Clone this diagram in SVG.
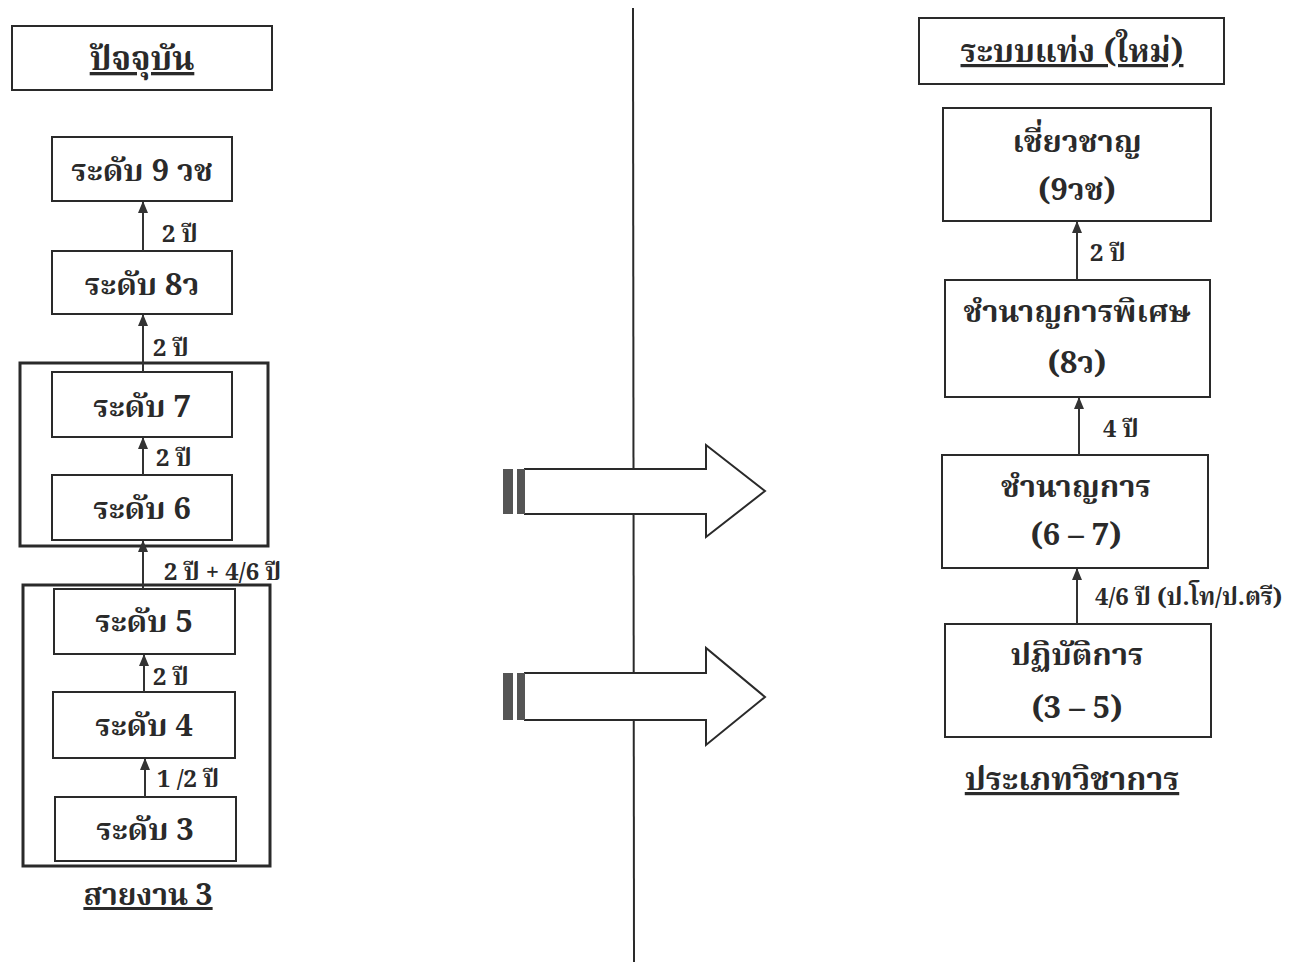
<svg xmlns="http://www.w3.org/2000/svg" width="1315" height="962" viewBox="0 0 1315 962">
<defs>
<marker id="ah" viewBox="0 0 12 10" refX="11" refY="5" markerWidth="12" markerHeight="10" markerUnits="userSpaceOnUse" orient="auto">
<path d="M0,0 L12,5 L0,10 Z" fill="#333"/>
</marker>
<style>
text{font-family:"Noto Serif Thai","Noto Sans Thai","Garuda","Loma","Noto Sans","DejaVu Sans",sans-serif;font-weight:bold;fill:#2a2a2a;text-anchor:middle}
.box{fill:#fff;stroke:#2a2a2a;stroke-width:2}
.outer{fill:none;stroke:#2a2a2a;stroke-width:3}
.lbl{font-size:31px}
.sm{font-size:24px;text-anchor:start}
.conn{stroke:#333;stroke-width:2;fill:none}
.u{text-decoration:underline}
</style>
</defs>
<rect width="1315" height="962" fill="#fff"/>

<!-- divider -->
<line x1="633" y1="8" x2="634" y2="962" stroke="#2a2a2a" stroke-width="2"/>

<!-- left title -->
<g id="title-left">
<rect class="box" x="12" y="26" width="260" height="64"/>
<text class="lbl u" x="142" y="70" style="font-size:33px">ปัจจุบัน</text>
</g>

<!-- outer groups -->
<g id="group-6-7"><rect class="outer" x="20" y="363" width="248" height="183"/></g>
<g id="group-3-5"><rect class="outer" x="23" y="585" width="247" height="281"/></g>

<g id="lv9"><rect class="box" x="52" y="137" width="180" height="64"/><text class="lbl" x="142" y="181">ระดับ 9 วช</text></g>
<g id="lv8"><rect class="box" x="52" y="251" width="180" height="63"/><text class="lbl" x="142" y="295">ระดับ 8ว</text></g>
<g id="lv7"><rect class="box" x="52" y="372" width="180" height="65"/><text class="lbl" x="142" y="417">ระดับ 7</text></g>
<g id="lv6"><rect class="box" x="52" y="475" width="180" height="65"/><text class="lbl" x="142" y="519">ระดับ 6</text></g>
<g id="lv5"><rect class="box" x="54" y="589" width="181" height="65"/><text class="lbl" x="144" y="632">ระดับ 5</text></g>
<g id="lv4"><rect class="box" x="53" y="692" width="182" height="66"/><text class="lbl" x="144" y="736">ระดับ 4</text></g>
<g id="lv3"><rect class="box" x="55" y="797" width="181" height="64"/><text class="lbl" x="145" y="840">ระดับ 3</text></g>
<g id="caption-left"><text class="lbl u" x="148" y="905" style="font-size:30px">สายงาน 3</text></g>

<!-- right -->
<g id="title-right">
<rect class="box" x="919" y="18" width="305" height="66"/>
<text class="lbl u" x="1072" y="62" style="font-size:32px">ระบบแท่ง (ใหม่)</text>
</g>
<g id="expert"><rect class="box" x="943" y="108" width="268" height="113"/><text class="lbl" x="1077" y="152">เชี่ยวชาญ</text><text class="lbl" x="1077" y="200">(9วช)</text></g>
<g id="senior"><rect class="box" x="945" y="280" width="265" height="117"/><text class="lbl" x="1077" y="322">ชำนาญการพิเศษ</text><text class="lbl" x="1077" y="373">(8ว)</text></g>
<g id="professional"><rect class="box" x="942" y="455" width="266" height="113"/><text class="lbl" x="1076" y="497">ชำนาญการ</text><text class="lbl" x="1076" y="545">(6 – 7)</text></g>
<g id="practitioner"><rect class="box" x="945" y="624" width="266" height="113"/><text class="lbl" x="1077" y="665">ปฏิบัติการ</text><text class="lbl" x="1077" y="718">(3 – 5)</text></g>
<g id="caption-right"><text class="lbl u" x="1072" y="790" style="font-size:32px">ประเภทวิชาการ</text></g>

<!-- block arrows -->
<g id="block-arrow-1">
<path d="M524,469 L706,469 L706,445 L765,491 L706,537 L706,514 L524,514" fill="#fff" stroke="#2a2a2a" stroke-width="2"/>
<rect x="503" y="469" width="22" height="45" fill="#555"/>
<rect x="513" y="469" width="4" height="45" fill="#fff"/>
</g>
<g id="block-arrow-2">
<path d="M524,673 L706,673 L706,648 L765,697 L706,745 L706,720 L524,720" fill="#fff" stroke="#2a2a2a" stroke-width="2"/>
<rect x="503" y="673" width="22" height="47" fill="#555"/>
<rect x="513" y="673" width="4" height="47" fill="#fff"/>
</g>

<!-- connectors -->
<g id="connectors">
<line class="conn" x1="143" y1="251" x2="143" y2="202" marker-end="url(#ah)"/>
<line class="conn" x1="143" y1="372" x2="143" y2="315" marker-end="url(#ah)"/>
<line class="conn" x1="143" y1="475" x2="143" y2="438" marker-end="url(#ah)"/>
<line class="conn" x1="143" y1="589" x2="143" y2="541" marker-end="url(#ah)"/>
<line class="conn" x1="144" y1="692" x2="144" y2="655" marker-end="url(#ah)"/>
<line class="conn" x1="145" y1="797" x2="145" y2="759" marker-end="url(#ah)"/>
<line class="conn" x1="1077" y1="280" x2="1077" y2="222" marker-end="url(#ah)"/>
<line class="conn" x1="1079" y1="455" x2="1079" y2="398" marker-end="url(#ah)"/>
<line class="conn" x1="1077" y1="624" x2="1077" y2="569" marker-end="url(#ah)"/>
<text class="sm" x="162" y="242">2 ปี</text>
<text class="sm" x="153" y="356">2 ปี</text>
<text class="sm" x="156" y="466">2 ปี</text>
<text class="sm" x="164" y="580">2 ปี + 4/6 ปี</text>
<text class="sm" x="153" y="685">2 ปี</text>
<text class="sm" x="157" y="787">1 /2 ปี</text>
<text class="sm" x="1090" y="261">2 ปี</text>
<text class="sm" x="1103" y="437">4 ปี</text>
<text class="sm" x="1095" y="605">4/6 ปี  (ป.โท/ป.ตรี)</text>
</g>
</svg>
